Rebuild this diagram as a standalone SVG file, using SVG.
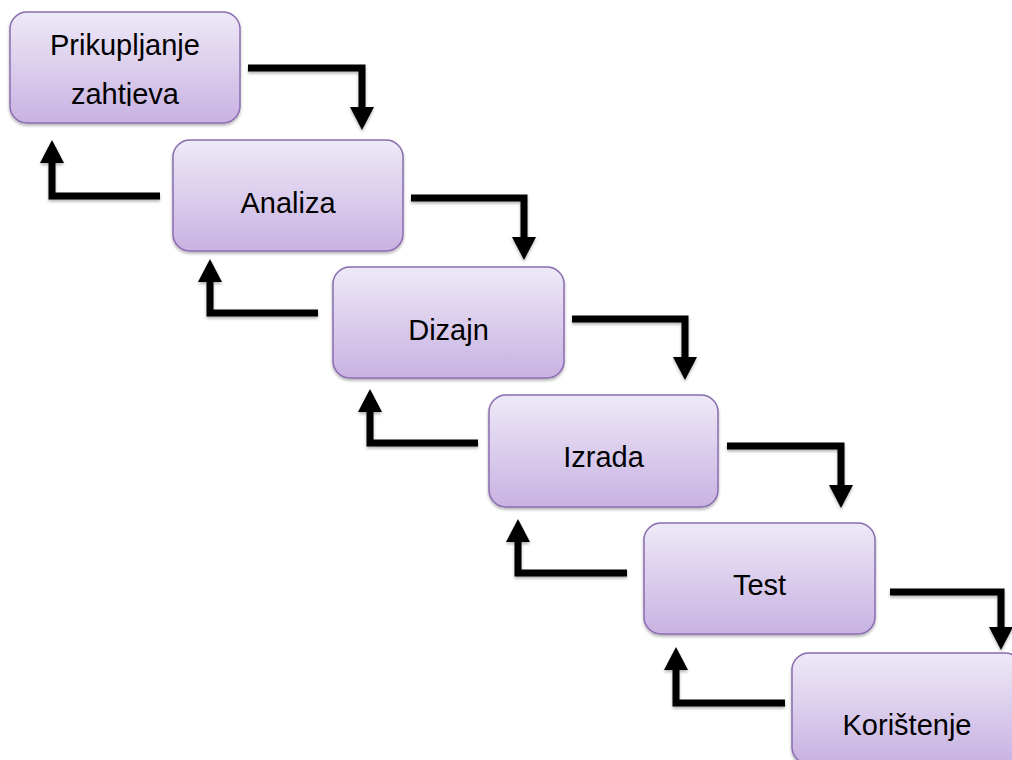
<svg xmlns="http://www.w3.org/2000/svg" width="1012" height="760" viewBox="0 0 1012 760">
  <defs>
    <linearGradient id="boxFill" x1="0" y1="0" x2="0" y2="1">
      <stop offset="0" stop-color="#eee9f7"/>
      <stop offset="1" stop-color="#c8b2e2"/>
    </linearGradient>
    <filter id="shadow" filterUnits="userSpaceOnUse" x="0" y="0" width="1012" height="760">
      <feDropShadow dx="0" dy="2" stdDeviation="1.5" flood-color="#000" flood-opacity="0.3"/>
    </filter>
    <marker id="head" viewBox="0 0 23 24" refX="0" refY="12" markerWidth="23" markerHeight="24" markerUnits="userSpaceOnUse" orient="auto" overflow="visible">
      <path d="M0,0 L23,12 L0,24 Z" fill="#000"/>
    </marker>
    <clipPath id="clip1">
      <rect x="10" y="12" width="230" height="94"/>
    </clipPath>
    <style>
      .box { fill: url(#boxFill); stroke: #8a6cb0; stroke-width: 1.5; }
      .lbl { font-family: "Liberation Sans", Arial, sans-serif; font-size: 29px; fill: #000; text-anchor: middle; }
      .conn { fill: none; stroke: #000; stroke-width: 7; stroke-linejoin: miter; marker-end: url(#head); }
    </style>
  </defs>
  <rect width="1012" height="760" fill="#fff"/>

  <g id="connectors" filter="url(#shadow)">
    <path class="conn" d="M248,68 H362 V107"/>
    <path class="conn" d="M411,198 H524 V237"/>
    <path class="conn" d="M572,319 H685 V357"/>
    <path class="conn" d="M727,446 H841 V485"/>
    <path class="conn" d="M890,592 H1001 V627"/>
    <path class="conn" d="M160,196 H52 V163"/>
    <path class="conn" d="M318,313 H210 V282"/>
    <path class="conn" d="M478,443 H370 V412"/>
    <path class="conn" d="M627,573 H518 V542"/>
    <path class="conn" d="M785,703 H676 V670"/>
  </g>

  <g id="node-prikupljanje">
    <rect class="box" x="10" y="12" width="230" height="111" rx="17" filter="url(#shadow)"/>
    <g clip-path="url(#clip1)">
      <text class="lbl" x="125" y="55">Prikupljanje</text>
      <text class="lbl" x="125" y="104">zahtjeva</text>
    </g>
  </g>
  <g id="node-analiza">
    <rect class="box" x="173" y="140" width="230" height="111" rx="17" filter="url(#shadow)"/>
    <text class="lbl" x="288" y="213">Analiza</text>
  </g>
  <g id="node-dizajn">
    <rect class="box" x="333" y="267" width="231" height="111" rx="17" filter="url(#shadow)"/>
    <text class="lbl" x="448.5" y="340">Dizajn</text>
  </g>
  <g id="node-izrada">
    <rect class="box" x="489" y="395" width="229" height="112" rx="17" filter="url(#shadow)"/>
    <text class="lbl" x="603.5" y="467">Izrada</text>
  </g>
  <g id="node-test">
    <rect class="box" x="644" y="523" width="231" height="111" rx="17" filter="url(#shadow)"/>
    <text class="lbl" x="759.5" y="595">Test</text>
  </g>
  <g id="node-koristenje">
    <rect class="box" x="792" y="653" width="230" height="111" rx="17" filter="url(#shadow)"/>
    <text class="lbl" x="907" y="735">Korištenje</text>
  </g>
</svg>
